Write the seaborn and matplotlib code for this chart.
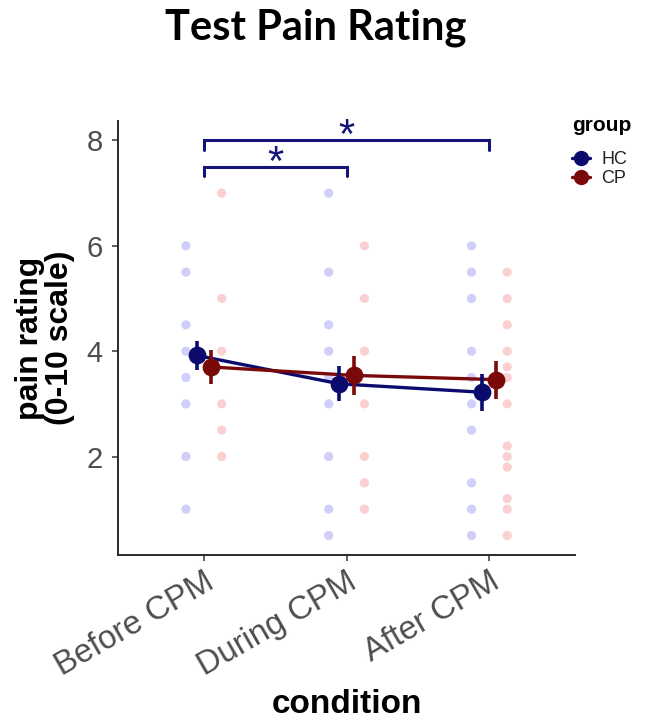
import matplotlib
matplotlib.use("Agg")
import matplotlib.pyplot as plt
from matplotlib.lines import Line2D
import numpy as np
import pandas as pd
import seaborn as sns

# ---- data -------------------------------------------------------------
conditions = ["Before CPM", "During CPM", "After CPM"]
groups = ["HC", "CP"]

# individual participant ratings
hc_before = [6.0, 5.5, 4.5, 4.0, 3.5, 3.0, 2.0, 1.0]
hc_during = [7.0, 5.5, 4.5, 4.0, 3.5, 3.0, 2.0, 1.0, 0.5]
hc_after = [6.0, 5.5, 5.0, 4.0, 3.5, 3.0, 2.5, 1.5, 1.0, 0.5]
cp_before = [7.0, 5.0, 4.0, 3.0, 2.5, 2.0]
cp_during = [6.0, 5.0, 4.0, 3.0, 2.0, 1.5, 1.0]
cp_after = [5.5, 5.0, 4.5, 4.0, 3.7, 3.5, 3.0, 2.2, 2.0, 1.8, 1.2, 1.0, 0.5]

# group means and standard errors
hc_mean = [3.92, 3.38, 3.22]
hc_se = [0.28, 0.33, 0.35]
cp_mean = [3.70, 3.54, 3.46]
cp_se = [0.32, 0.37, 0.36]

# significance brackets: (from condition, to condition, height, label)
brackets = [(0, 1, 7.5, "*"), (0, 2, 8.0, "*")]

yticks = [2, 4, 6, 8]

# ---- tidy tables --------------------------------------------------------
raw = {("HC", 0): hc_before, ("HC", 1): hc_during, ("HC", 2): hc_after,
       ("CP", 0): cp_before, ("CP", 1): cp_during, ("CP", 2): cp_after}
point_offset = {"HC": -0.125, "CP": 0.125}
rows = []
for (g, ci), vals in raw.items():
    for v in vals:
        rows.append({"group": g, "cond_idx": ci, "x": ci + point_offset[g], "rating": v})
points = pd.DataFrame(rows)

summary = pd.DataFrame({
    "condition": conditions * 2,
    "group": ["HC"] * 3 + ["CP"] * 3,
    "mean": hc_mean + cp_mean,
    "se": hc_se + cp_se,
})

# ---- style ------------------------------------------------------------
sns.set_theme(style="white")
plt.rcParams["font.family"] = ["Liberation Sans", "DejaVu Sans"]
plt.rcParams["text.color"] = "black"

dark = {"HC": "#0b0b6e", "CP": "#7a0a0a"}
light = {"HC": "#cfcffa", "CP": "#fbd0d0"}
axis_grey = "#4d4d4d"

fig = plt.figure(figsize=(6.49, 7.23), dpi=100)
ax = fig.add_axes([0.182, 0.232, 0.704, 0.601])

# individual ratings
sns.scatterplot(data=points, x="x", y="rating", hue="group", hue_order=groups,
                palette=light, s=44, linewidth=0, legend=False, ax=ax, zorder=1)

# group means joined across conditions
n_before = len(ax.lines)
sns.pointplot(data=summary, x="condition", y="mean", hue="group",
              order=conditions, hue_order=groups, palette=dark,
              dodge=0.1, errorbar=None, markers="o", linestyles="-",
              markersize=11, linewidth=2.4, legend=False, ax=ax)
mean_lines = ax.lines[n_before:]
for ln in mean_lines:
    ln.set_zorder(4)

# standard-error bars at the dodged mean positions
for g, ln in zip(groups, mean_lines):
    xs = np.asarray(ln.get_xdata(), dtype=float)
    sub = summary[summary["group"] == g]
    ax.vlines(xs, sub["mean"] - sub["se"], sub["mean"] + sub["se"],
              color=dark[g], linewidth=2.6, zorder=4)

# significance brackets
bracket_col = "#14147a"
for x0, x1, h, lab in brackets:
    ax.plot([x0, x0, x1, x1], [h - 0.18, h, h, h - 0.18], color=bracket_col,
            linewidth=2.2, solid_joinstyle="miter", zorder=3, clip_on=False)
    ax.text((x0 + x1) / 2, h - 0.32, lab, ha="center", va="bottom",
            fontsize=30, color=bracket_col, zorder=3, clip_on=False)

# axes
ax.set_xlim(-0.6, 2.6)
ax.set_ylim(0.125, 8.375)
ax.set_xticks(range(len(conditions)))
ax.set_xticklabels(conditions, rotation=30, ha="right", va="top",
                   rotation_mode="anchor")
ax.set_yticks(yticks)
ax.tick_params(axis="both", colors="#333333", labelsize=21, length=4,
               width=1.1, direction="out", pad=7, bottom=True, left=True)
ax.tick_params(axis="x", labelsize=23.5, pad=4)
for lab in ax.get_xticklabels() + ax.get_yticklabels():
    lab.set_color(axis_grey)
for side in ["top", "right"]:
    ax.spines[side].set_visible(False)
for side in ["left", "bottom"]:
    ax.spines[side].set_color("#2a2a2a")
    ax.spines[side].set_linewidth(1.4)

ax.set_xlabel("condition", fontsize=24, fontweight="bold", color="black")
ax.xaxis.set_label_coords(0.5, -0.307)
ax.set_ylabel("pain rating\n(0-10 scale)", fontsize=23, fontweight="bold",
              color="black", labelpad=8, linespacing=1.03)

# legend
handles = [Line2D([0], [0], color=dark[g], marker="o", markersize=10,
                  linewidth=2.4) for g in groups]
leg = ax.legend(handles, groups, title="group", loc="upper left",
                bbox_to_anchor=(0.882, 0.840), bbox_transform=fig.transFigure,
                frameon=False, fontsize=13, handlelength=1.0,
                handletextpad=0.6, labelspacing=0.1, borderaxespad=0,
                title_fontproperties={"weight": "bold", "size": 15},
                alignment="left", borderpad=0)
leg._legend_box.sep = 12
for t in leg.get_texts():
    t.set_color("#222222")

fig.text(0.487, 0.962, "Test Pain Rating", ha="center", va="center",
         fontsize=30, fontweight="bold", color="black",
         family=["Lato", "DejaVu Sans"])

fig.savefig("out.png", dpi=100, facecolor="white")
